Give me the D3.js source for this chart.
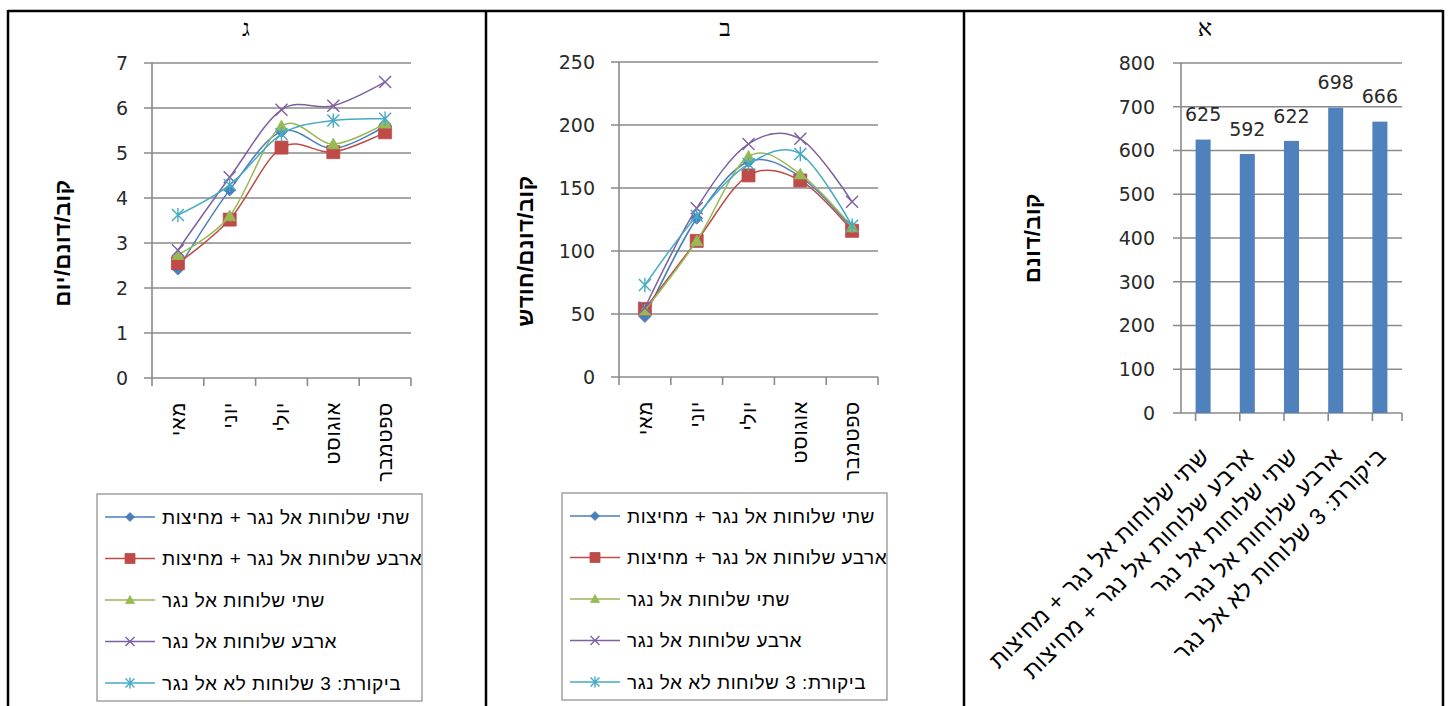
<!DOCTYPE html>
<html lang="he">
<head>
<meta charset="UTF-8">
<script src="https://d3js.org/d3.v7.min.js"></script>
<style>
  body { margin: 0; background: #fff; }
  svg { display: block; }
  .tick-lbl { font-family: "DejaVu Sans", sans-serif; font-size: 19px; fill: #2a2a2a; }
  .heb { font-family: "Liberation Sans", Arial, sans-serif; fill: #000; }
</style>
</head>
<body>
<script>
// --- data ---
var months = ["מאי", "יוני", "יולי", "אוגוסט", "ספטמבר"];
var seriesNames = [
  "שתי שלוחות אל נגר + מחיצות",
  "ארבע שלוחות אל נגר + מחיצות",
  "שתי שלוחות אל נגר",
  "ארבע שלוחות אל נגר",
  "ביקורת: 3 שלוחות לא אל נגר"
];
var seriesColors = ["#4A7EBB", "#BE4B48", "#98B954", "#7D60A0", "#46AAC5"];
var seriesMarkers = ["diamond", "square", "triangle", "times", "asterisk"];

// panel ג : קוב/דונם/יום
var dailyTwoBaffles  = [2.42, 4.18, 5.48, 5.10, 5.60];
var dailyFourBaffles = [2.55, 3.52, 5.12, 5.02, 5.46];
var dailyTwo         = [2.74, 3.60, 5.60, 5.20, 5.66];
var dailyFour        = [2.84, 4.46, 5.96, 6.05, 6.58];
var dailyControl     = [3.62, 4.29, 5.42, 5.72, 5.76];
var dailyTicks = [0, 1, 2, 3, 4, 5, 6, 7];

// panel ב : קוב/דונם/חודש
var monthlyTwoBaffles  = [48, 126, 171, 159, 118];
var monthlyFourBaffles = [54, 108, 160, 156, 116];
var monthlyTwo         = [53, 108, 175, 161, 119];
var monthlyFour        = [55, 134, 185, 189, 139];
var monthlyControl     = [73, 128, 169, 177, 120];
var monthlyTicks = [0, 50, 100, 150, 200, 250];

// panel א : קוב/דונם
var seasonTotals = [625, 592, 622, 698, 666];
var seasonTicks = [0, 100, 200, 300, 400, 500, 600, 700, 800];

var W = 1454, H = 706;
var svg = d3.select("body").append("svg").attr("width", W).attr("height", H);

// table borders
var border = svg.append("g").attr("stroke", "#000").attr("stroke-width", 2.5);
border.append("line").attr("x1", 8).attr("x2", 1443).attr("y1", 11).attr("y2", 11);
[8, 486, 964, 1443].forEach(function (x) {
  border.append("line").attr("x1", x).attr("x2", x).attr("y1", 10).attr("y2", H);
});

// panel titles
[["ג", 246], ["ב", 725], ["א", 1205]].forEach(function (t) {
  svg.append("text").attr("x", t[1]).attr("y", 36)
    .attr("text-anchor", "middle")
    .style("font-family", "'Liberation Serif', 'DejaVu Serif', serif")
    .style("font-size", "24px").attr("fill", "#000")
    .text(t[0]);
});

function markerPath(type, r) {
  if (type === "diamond") return "M0," + (-r) + "L" + r + ",0L0," + r + "L" + (-r) + ",0Z";
  if (type === "square") return "M" + (-r) + "," + (-r) + "h" + 2 * r + "v" + 2 * r + "h" + (-2 * r) + "Z";
  if (type === "triangle") return "M0," + (-r) + "L" + r + "," + (r * 0.8) + "L" + (-r) + "," + (r * 0.8) + "Z";
  var p = "M" + (-r) + "," + (-r) + "L" + r + "," + r + "M" + (-r) + "," + r + "L" + r + "," + (-r);
  if (type === "asterisk") p += "M0," + (-r * 1.2) + "L0," + (r * 1.2);
  return p;
}

function drawMarker(g, type, color, x, y, r) {
  var filled = type !== "times" && type !== "asterisk";
  g.append("path")
    .attr("d", markerPath(type, r))
    .attr("transform", "translate(" + x + "," + y + ")")
    .attr("fill", filled ? color : "none")
    .attr("stroke", color)
    .attr("stroke-width", filled ? 0.8 : 1.4);
}

// gridlines, y ticks and y title shared by all three panels
function drawFrame(x, y, ticks, yTitle, titleX, labelGap) {
  var x0 = x.range()[0], x1 = x.range()[1];
  var g = svg.append("g");
  g.selectAll("line.grid").data(ticks).join("line")
    .attr("x1", x0 - 8).attr("x2", x1)
    .attr("y1", function (d) { return y(d); })
    .attr("y2", function (d) { return y(d); })
    .attr("stroke", "#8a8a8a").attr("stroke-width", 1.6);
  g.selectAll("text.tick-lbl").data(ticks).join("text")
    .attr("class", "tick-lbl")
    .attr("x", x0 - labelGap)
    .attr("y", function (d) { return y(d); })
    .attr("dy", "0.36em")
    .attr("text-anchor", "end")
    .text(function (d) { return d; });
  // y axis
  g.append("line").attr("x1", x0).attr("x2", x0)
    .attr("y1", y.range()[0]).attr("y2", y.range()[1])
    .attr("stroke", "#8a8a8a").attr("stroke-width", 1.6);
  // category boundary ticks under the x axis
  var bounds = x.domain().map(function (d) { return x(d); }).concat([x1]);
  g.selectAll("line.xt").data(bounds).join("line")
    .attr("x1", function (d) { return d; }).attr("x2", function (d) { return d; })
    .attr("y1", y(0)).attr("y2", y(0) + 8)
    .attr("stroke", "#8a8a8a").attr("stroke-width", 1.6);
  g.append("text")
    .attr("class", "heb")
    .attr("transform", "translate(" + titleX[0] + "," + titleX[1] + ") rotate(-90)")
    .attr("text-anchor", "middle").attr("dy", "0.35em")
    .style("font-size", "22px").style("font-weight", "bold")
    .style("letter-spacing", "0.5px")
    .text(yTitle);
}

function drawLinePanel(opt) {
  var x = d3.scaleBand().domain(months).range(opt.xr).padding(0);
  var y = d3.scaleLinear().domain([0, opt.ticks[opt.ticks.length - 1]]).range(opt.yr);
  drawFrame(x, y, opt.ticks, opt.yTitle, opt.titlePos, 24);

  var cx = function (i) { return x(months[i]) + x.bandwidth() / 2; };

  // month labels, vertical
  svg.append("g").selectAll("text").data(months).join("text")
    .attr("class", "heb")
    .attr("transform", function (d, i) { return "translate(" + cx(i) + "," + (y(0) + 24) + ") rotate(-90)"; })
    .attr("text-anchor", "end").attr("dy", "0.35em")
    .style("font-size", "20px").style("letter-spacing", "0.8px")
    .text(function (d) { return d; });

  var line = d3.line()
    .x(function (d, i) { return cx(i); })
    .y(function (d) { return y(d); })
    .curve(d3.curveCatmullRom.alpha(0));

  opt.series.forEach(function (vals, s) {
    var g = svg.append("g");
    g.append("path").datum(vals)
      .attr("d", line)
      .attr("fill", "none")
      .attr("stroke", seriesColors[s])
      .attr("stroke-width", 1.5);
    vals.forEach(function (v, i) {
      drawMarker(g, seriesMarkers[s], seriesColors[s], cx(i), y(v), s === 1 ? 6.5 : 6);
    });
  });

  // legend
  var lg = svg.append("g");
  lg.append("rect").attr("x", opt.legend[0]).attr("y", opt.legend[1])
    .attr("width", 325).attr("height", 207)
    .attr("fill", "#fff").attr("stroke", "#8a8a8a").attr("stroke-width", 1.2);
  seriesNames.forEach(function (name, s) {
    var ly = opt.legend[1] + 23 + s * 41.5;
    var lx = opt.legend[0] + 8;
    lg.append("line").attr("x1", lx).attr("x2", lx + 50).attr("y1", ly).attr("y2", ly)
      .attr("stroke", seriesColors[s]).attr("stroke-width", 1.5);
    drawMarker(lg, seriesMarkers[s], seriesColors[s], lx + 25, ly, s === 1 ? 5 : 4.5);
    lg.append("text").attr("class", "heb")
      .attr("x", lx + 57).attr("y", ly).attr("dy", "0.35em")
      .style("font-size", "19px").style("letter-spacing", "0.5px")
      .text(name);
  });
}

drawLinePanel({
  xr: [152, 411], yr: [378, 63], ticks: dailyTicks,
  series: [dailyTwoBaffles, dailyFourBaffles, dailyTwo, dailyFour, dailyControl],
  yTitle: "קוב/דונם/יום", titlePos: [62, 243], legend: [97, 494]
});

drawLinePanel({
  xr: [619, 878], yr: [377, 62], ticks: monthlyTicks,
  series: [monthlyTwoBaffles, monthlyFourBaffles, monthlyTwo, monthlyFour, monthlyControl],
  yTitle: "קוב/דונם/חודש", titlePos: [525, 251], legend: [562, 493]
});

// panel א : bars
var xb = d3.scaleBand().domain(seriesNames).range([1181, 1402]).paddingInner(0.66).paddingOuter(0.33);
var yb = d3.scaleLinear().domain([0, 800]).range([413, 63]);
drawFrame(xb, yb, seasonTicks, "קוב/דונם", [1032, 238], 26);

svg.append("g").selectAll("rect").data(seasonTotals).join("rect")
  .attr("x", function (d, i) { return xb(seriesNames[i]); })
  .attr("width", xb.bandwidth())
  .attr("y", function (d) { return yb(d); })
  .attr("height", function (d) { return yb(0) - yb(d); })
  .attr("fill", "#4F81BD");

svg.append("g").selectAll("text").data(seasonTotals).join("text")
  .attr("class", "tick-lbl")
  .attr("x", function (d, i) { return xb(seriesNames[i]) + xb.bandwidth() / 2; })
  .attr("y", function (d) { return yb(d) - 25; })
  .attr("dy", "0.36em")
  .attr("text-anchor", "middle")
  .text(function (d) { return d; });

svg.append("g").selectAll("text").data(seriesNames).join("text")
  .attr("class", "heb")
  .attr("transform", function (d) {
    var c = xb(d) + xb.bandwidth() / 2;
    return "translate(" + (c + 2) + "," + 452 + ") rotate(-45)";
  })
  .attr("text-anchor", "end").attr("dy", "0.35em")
  .style("font-size", "23px").style("letter-spacing", "0.6px")
  .text(function (d) { return d; });
</script>
</body>
</html>
